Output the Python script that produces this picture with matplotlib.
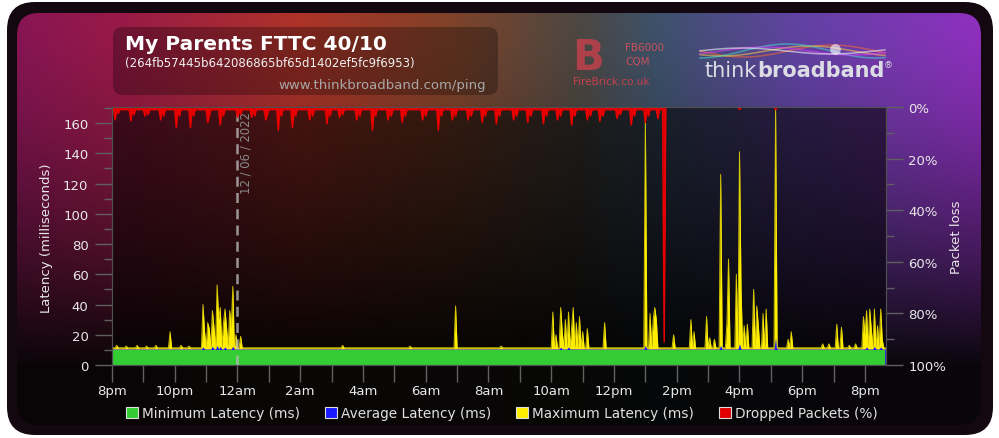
import numpy as np
import matplotlib.pyplot as plt
from matplotlib.patches import FancyBboxPatch, Patch
from matplotlib.ticker import MultipleLocator, FuncFormatter

plt.rcParams['font.family'] = ['DejaVu Sans']

# ================= data (hours after 8pm, 3 minute samples) =================
tick_hours = list(range(0, 25, 2))
tick_labels = ['8pm', '10pm', '12am', '2am', '4am', '6am', '8am',
               '10am', '12pm', '2pm', '4pm', '6pm', '8pm']
x_end = 24.67

min_latency_ms = 9.9
avg_latency_ms = 10.6
max_latency_ms = 11.4

# max latency spikes
max_spike_hours = [0.15, 0.45, 0.80, 1.10, 1.40, 1.85, 2.20, 2.45,
                   2.90, 2.97, 3.03, 3.12, 3.19, 3.25, 3.35, 3.41, 3.47, 3.54,
                   3.60, 3.67, 3.73, 3.79, 3.86, 3.95, 4.11,
                   7.36, 9.50, 10.93, 12.40,
                   14.06, 14.15, 14.28, 14.37, 14.44, 14.53, 14.63, 14.72,
                   14.82, 14.92, 14.98, 15.17, 15.71,
                   17.02, 17.15, 17.24, 17.31, 17.37, 17.88,
                   18.45, 18.55, 18.96, 19.06, 19.22, 19.41, 19.60, 19.67,
                   19.92, 19.98, 20.05, 20.14, 20.27, 20.46, 20.56, 20.62,
                   20.75, 20.84, 21.16, 21.55, 21.64,
                   22.66, 22.85, 23.11, 23.24, 23.52, 23.68,
                   23.94, 24.00, 24.06, 24.16, 24.22, 24.29, 24.38, 24.48, 24.57]
max_spike_ms = [13, 12.5, 13, 12.5, 13, 22, 13, 12.5,
                40, 22, 28, 24, 36, 25, 53, 30, 38, 27,
                37, 25, 36, 24, 52, 20, 19,
                13, 12.5, 39, 12.5,
                35, 20, 38, 22, 30, 35, 25, 38,
                28, 32, 22, 24, 28,
                163, 34, 30, 38, 30, 20,
                30, 22, 32, 18, 17, 126, 28, 70,
                60, 141, 50, 26, 27, 50, 39, 26,
                34, 37, 170, 17, 22,
                14, 14, 27, 25, 13, 14,
                32, 20, 36, 37, 24, 37, 26, 37, 17]

avg_bump_hours = [2.90, 3.19, 3.35, 3.47, 3.60, 3.86, 14.28, 14.53, 17.02,
                  19.41, 19.98, 21.16, 24.06, 24.29, 24.48]
avg_bump_ms = [12, 12.5, 13, 12.5, 12, 12.5, 11.8, 12, 13,
               13, 14, 18, 12, 12.5, 12]

# dropped packets (%), hanging from the top of the chart
drop_floor_pct = 1.0
drop_floor_until = 17.6
drop_spike_hours = [0.10, 0.19, 0.61, 0.70, 1.05, 1.15, 1.53, 1.63, 2.07, 2.17,
                    2.49, 2.58, 3.03, 3.12, 3.44, 3.54, 3.98, 4.08, 4.46, 4.56,
                    4.88, 4.97, 5.29, 5.39, 5.77, 5.86, 6.31, 6.41, 6.85, 6.95,
                    7.27, 7.36, 7.81, 7.90, 8.32, 8.41, 8.80, 8.89, 9.27, 9.37,
                    9.88, 9.98, 10.39, 10.49, 10.87, 10.96, 11.35, 11.44,
                    11.82, 11.92, 12.27, 12.37, 12.78, 12.88, 13.26, 13.35,
                    13.74, 13.83, 14.18, 14.28, 14.66, 14.76, 15.14, 15.24,
                    15.55, 15.65, 16.10, 16.19, 16.57, 16.67, 17.02, 17.11,
                    17.40, 17.59, 20.02, 21.16]
drop_spike_pct = [5, 2.5, 5.4, 3, 3.5, 3, 5, 3.5, 8, 3.5,
                  8, 3.5, 6, 3.5, 7, 3.5, 4, 3, 4, 3.5,
                  5, 3, 9, 3.5, 8, 3.5, 5, 3.5, 6.5, 3.5,
                  4, 3, 5, 3.5, 9, 3.5, 5, 3.5, 6, 3.5,
                  5, 3.5, 9, 3.5, 5, 3.5, 5, 3.5,
                  6, 3.5, 6.5, 3.5, 5, 3.5, 6, 3.5,
                  6.5, 3.5, 5, 3.5, 7, 3.5, 5, 3.5,
                  5.5, 3.5, 4.5, 3, 7, 3.5, 6, 3.5,
                  4.5, 91, 1, 1]

date_line_hour = 4.0
date_label = '12 / 06 / 2022'

legend_labels = ['Minimum Latency (ms)', 'Average Latency (ms)',
                 'Maximum Latency (ms)', 'Dropped Packets (%)']
legend_colors = ['#33cc33', '#1a1aff', '#ffee00', '#e00000']

# ================= build series on the sample grid =================
per_hour = 20
t = np.arange(0, x_end + 1e-9, 1 / per_hour)


def with_spikes(base, hours, values):
    s = np.full(len(t), float(base))
    idx = np.round(np.array(hours) * per_hour).astype(int)
    for i, v in zip(idx, values):
        s[i] = max(s[i], v)
    return s


min_series = np.full(len(t), min_latency_ms)
avg_series = with_spikes(avg_latency_ms, avg_bump_hours, avg_bump_ms)
max_series = with_spikes(max_latency_ms, max_spike_hours, max_spike_ms)
drop_series = with_spikes(0, drop_spike_hours, drop_spike_pct)
early = t < drop_floor_until
drop_series[early] = np.maximum(drop_series[early], drop_floor_pct)

# ================= figure & background =================
fig = plt.figure(figsize=(9.99, 4.39), dpi=100)
fig.patch.set_facecolor('white')

bg = fig.add_axes([0, 0, 1, 1])
bg.set_zorder(0)

W, H = 999, 439
xs = np.linspace(0, 1, W)
ys = np.arange(H)
stops = [0, .12, .30, .45, .58, .66, .80, 1]
R = [.50, .58, .66, .48, .28, .22, .36, .56]
G = [.06, .08, .18, .24, .26, .30, .24, .16]
B = [.32, .26, .14, .14, .24, .40, .62, .74]
row = np.stack([np.interp(xs, stops, c) for c in (R, G, B)], axis=-1)
fade = np.clip(1 - np.clip((ys - 15) / 360, 0, 1) ** 1.5, 0.03, 1)
grad = np.clip(fade[:, None, None] * row[None, :, :] + 0.02, 0, 1)

outer = FancyBboxPatch((7, 3), 986, 433, boxstyle='round,pad=0,rounding_size=28',
                       fc='#140810', ec='none', zorder=0)
bg.add_patch(outer)
inner = FancyBboxPatch((17, 14), 964, 412, boxstyle='round,pad=0,rounding_size=22',
                       fc='none', ec='none')
bg.add_patch(inner)
im = bg.imshow(grad, extent=(0, W, H, 0), aspect='auto', zorder=1)
im.set_clip_path(inner)
bg.set_xlim(0, W)
bg.set_ylim(H, 0)
bg.axis('off')

# title box
bg.add_patch(FancyBboxPatch((113, 28), 385, 68, boxstyle='round,pad=0,rounding_size=10',
                            fc=(0, 0, 0, 0.28), ec='none', zorder=2))
bg.text(125, 44, 'My Parents FTTC 40/10', fontsize=14.5, fontweight='bold',
        color='white', va='center', zorder=3)
bg.text(125, 64, '(264fb57445b642086865bf65d1402ef5fc9f6953)', fontsize=8.5,
        color='#f0f0f0', va='center', zorder=3)
bg.text(486, 86, 'www.thinkbroadband.com/ping', fontsize=9.5, color='#a8a8a8',
        ha='right', va='center', zorder=3)

# FireBrick logo
bg.text(572, 58, 'B', fontsize=30, fontweight='bold', color='#c8404c', alpha=0.8,
        va='center', zorder=3)
bg.text(625, 48, 'FB6000', fontsize=7.5, color='#c8505c', va='center', zorder=3)
bg.text(625, 62, 'CQM', fontsize=7.5, color='#c8505c', va='center', zorder=3)
bg.text(573, 82, 'FireBrick.co.uk', fontsize=7.5, color='#c8404c', va='center', zorder=3)

# thinkbroadband logo with swirl
sx = np.linspace(700, 885, 200)
for amp, ph, col in [(6, 0.0, '#ff6a30'), (5, 0.8, '#ffd040'), (7, 1.6, '#40e0d0'),
                     (4, 2.4, '#e040ff'), (3, 3.2, '#ffffff')]:
    bg.plot(sx, 52 + amp * np.sin((sx - 700) / 28 + ph), color=col, lw=1.1, alpha=0.55, zorder=3)
bg.scatter([835], [50], s=60, color='white', alpha=0.6, lw=0, zorder=3)
bg.text(757, 77, 'think', fontsize=15, color='#dcdce4', ha='right', va='baseline', zorder=4)
bg.text(757, 77, 'broadband', fontsize=15, fontweight='bold', color='#dcdce4',
        ha='left', va='baseline', zorder=4)
bg.text(884, 66, '®', fontsize=6.5, color='#dcdce4', va='center', zorder=4)

# axis titles
bg.text(47, 238, 'Latency (milliseconds)', rotation=90, fontsize=9.5, color='#e8e8e8',
        ha='center', va='center', zorder=4)
bg.text(956, 237, 'Packet loss', rotation=90, fontsize=9.5, color='#e8e8e8',
        ha='center', va='center', zorder=4)

# ================= main chart =================
ax = fig.add_axes([112 / W, 73 / H, 774 / W, 258 / H])
ax.set_zorder(2)
ax.set_facecolor((0, 0, 0, 0.55))

ax.fill_between(t, 0, max_series, color='#ffee00', lw=0)
ax.plot(t, max_series, color='#ffee00', lw=0.7, alpha=0.8)
ax.fill_between(t, 0, avg_series, color='#1a1aff', lw=0)
ax.fill_between(t, 0, min_series, color='#33cc33', lw=0)

ax.axvline(date_line_hour, color='#b8b8b8', lw=1.8, ls=(0, (4, 2.5)), alpha=0.8, zorder=5)
ax.text(date_line_hour + 0.27, 168, date_label, rotation=90, va='top', ha='center',
        color='#8a8a8a', fontsize=8.4, zorder=5)

ax.set_xlim(0, x_end)
ax.set_ylim(0, 170.6)
ax.set_xticks(tick_hours, tick_labels)
ax.xaxis.set_minor_locator(MultipleLocator(1))
ax.yaxis.set_major_locator(MultipleLocator(20))
ax.yaxis.set_minor_locator(MultipleLocator(10))
ax.tick_params(axis='y', which='major', length=12, width=1, color='#606060',
               labelcolor='#e8e8e8', labelsize=9.5, pad=5)
ax.tick_params(axis='y', which='minor', length=6, width=1, color='#606060')
ax.tick_params(axis='x', which='both', length=12, width=1, color='#606060',
               labelcolor='#e8e8e8', labelsize=9.5, pad=2)

ax2 = ax.twinx()
ax2.set_zorder(3)
ax2.patch.set_visible(False)
ax2.fill_between(t, 0, drop_series, color='#e80000', lw=0)
ax2.plot(t, drop_series, color='#e80000', lw=1.1)
ax2.set_ylim(100, 0)
ax2.yaxis.set_major_locator(MultipleLocator(20))
ax2.yaxis.set_minor_locator(MultipleLocator(10))
ax2.yaxis.set_major_formatter(FuncFormatter(lambda v, p: f'{v:.0f}%'))
ax2.tick_params(axis='y', which='major', length=12, width=1, color='#606060',
                labelcolor='#e8e8e8', labelsize=9.5, pad=4)
ax2.tick_params(axis='y', which='minor', length=6, width=1, color='#606060')

for a in (ax, ax2):
    for sp in a.spines.values():
        sp.set_color('#505050')

handles = [Patch(facecolor=c, edgecolor='#dddddd', lw=0.8) for c in legend_colors]
fig.legend(handles, legend_labels, loc='center', bbox_to_anchor=(502 / W, 1 - 414 / H),
           ncol=4, frameon=False, fontsize=9.8, labelcolor='#e0e0e0',
           handlelength=0.9, handleheight=0.9, handletextpad=0.3, columnspacing=1.8)

fig.savefig('out.png', dpi=100, facecolor=fig.get_facecolor())
